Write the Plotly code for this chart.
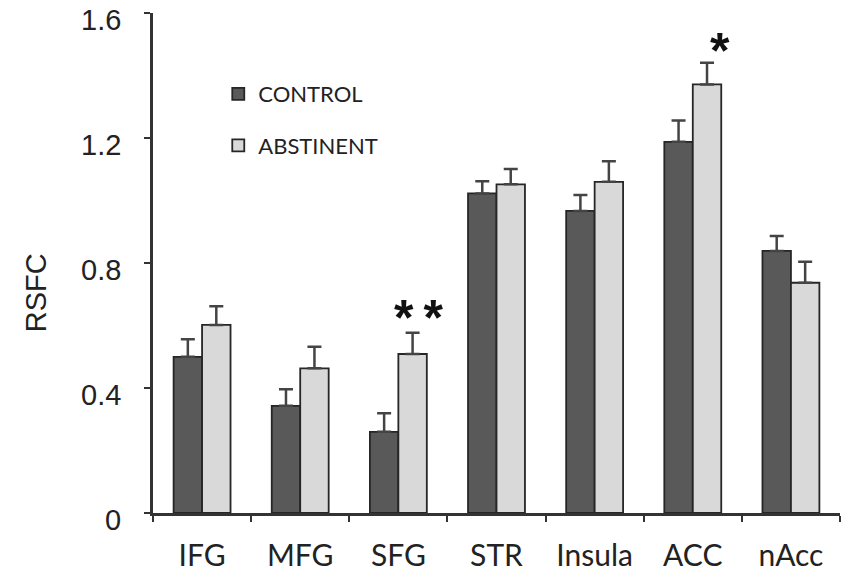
import plotly.graph_objects as go

regions = ["IFG", "MFG", "SFG", "STR", "Insula", "ACC", "nAcc"]

control = [0.50, 0.343, 0.260, 1.023, 0.967, 1.188, 0.839]
control_err = [0.056, 0.053, 0.059, 0.039, 0.051, 0.068, 0.048]

abstinent = [0.602, 0.463, 0.509, 1.052, 1.060, 1.372, 0.737]
abstinent_err = [0.060, 0.069, 0.068, 0.049, 0.066, 0.069, 0.067]

y_ticks = [0, 0.4, 0.8, 1.2, 1.6]
y_ticktext = ["0", "0.4", "0.8", "1.2", "1.6"]

# significance marks: (region, label, y, xshift px)
stars = [("SFG", "*\u2009*", 0.624, 20), ("ACC", "*", 1.479, 27)]

fig = go.Figure()

fig.add_trace(go.Bar(
    x=regions, y=control, name="CONTROL", legendgroup="c",
    marker=dict(color="#595959", line=dict(color="#262626", width=1.8)),
    error_y=dict(type="data", array=control_err, symmetric=False,
                 arrayminus=[0] * len(regions), color="#444",
                 thickness=2.5, width=7),
))
fig.add_trace(go.Bar(
    x=regions, y=abstinent, name="ABSTINENT", legendgroup="a",
    marker=dict(color="#d9d9d9", line=dict(color="#262626", width=1.8)),
    error_y=dict(type="data", array=abstinent_err, symmetric=False,
                 arrayminus=[0] * len(regions), color="#444",
                 thickness=2.5, width=7),
))

for reg, lab, yy, dx in stars:
    fig.add_annotation(x=reg, y=yy, text="<b>" + lab + "</b>", showarrow=False,
                       xshift=dx,
                       font=dict(family="Liberation Sans", size=50, color="#111"))

# y tick labels sit a few px below their ticks in the original
for v, t in zip(y_ticks, y_ticktext):
    fig.add_annotation(xref="paper", yref="y", x=0, y=v, text=t,
                       xanchor="right", yanchor="middle", showarrow=False,
                       xshift=-30, yshift=-7,
                       font=dict(family="Liberation Sans", size=29, color="#222"))

# y axis title, sits a bit below the middle in the original
fig.add_annotation(xref="paper", yref="paper", x=-0.17, y=0.44,
                   xanchor="center", yanchor="middle",
                   text="RSFC", textangle=-90, showarrow=False,
                   font=dict(family="Liberation Sans", size=29, color="#222"))

fig.update_layout(
    width=850, height=581,
    margin=dict(l=153, r=10, t=13, b=68),
    paper_bgcolor="white", plot_bgcolor="white",
    barmode="group", bargap=0.42, bargroupgap=0,
    showlegend=True,
    legend=dict(x=0.095, y=0.88, xanchor="left", yanchor="top",
                font=dict(family="Lato", size=22, color="#222"),
                tracegroupgap=20, bgcolor="rgba(0,0,0,0)"),
    font=dict(family="Liberation Sans", color="#222"),
)

fig.update_yaxes(
    range=[0, 1.6005], tickvals=y_ticks, showticklabels=False,
    automargin=False,
    showgrid=False, zeroline=False,
    showline=True, linecolor="#333", linewidth=2.5,
    ticks="outside", ticklen=6, tickwidth=2, tickcolor="#333",
)
fig.update_xaxes(
    automargin=False,
    showgrid=False, showline=True, linecolor="#333", linewidth=2.5,
    ticks="outside", tickson="boundaries", ticklen=6, tickwidth=2, tickcolor="#333",
    ticklabelstandoff=14,
    tickfont=dict(family="Lato", size=30, color="#222"),
)

# drop the default 8px page margin so the figure sits at the window corner
fig.write_html("out.html", config={"displayModeBar": False},
               post_script="document.body.style.margin='0';")
